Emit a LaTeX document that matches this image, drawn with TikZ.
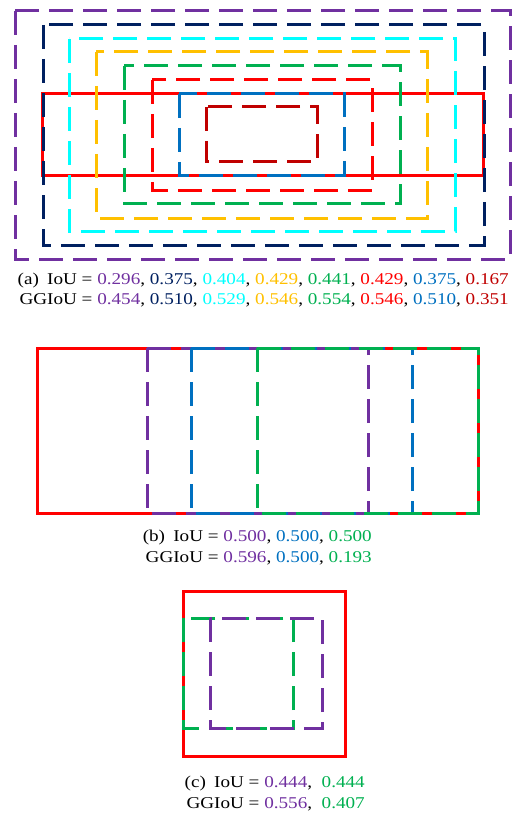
\documentclass[tikz,border=0pt]{standalone}
\usepackage{fontspec}
\setmainfont{Liberation Serif}[FakeStretch=1.16]
\usetikzlibrary{positioning}
\definecolor{iouPurple}{HTML}{7030A0}
\definecolor{iouNavy}{HTML}{002060}
\definecolor{iouCyan}{HTML}{00FFFF}
\definecolor{iouGold}{HTML}{FFC000}
\definecolor{iouGreen}{HTML}{00B050}
\definecolor{iouRed}{HTML}{FF0000}
\definecolor{iouBlue}{HTML}{0070C0}
\definecolor{iouDark}{HTML}{C00000}
\tikzset{
pred/.style={
  draw,
  line width=3pt,
  dash pattern=on 24pt off 10pt},
truth/.style={
  draw=iouRed,
  line width=3pt},
caption/.style={
  inner sep=0pt,
  anchor=base east,
  font=\fontsize{16.5}{19}\selectfont}
}
\begin{document}
\begin{tikzpicture}[x=1pt,y=-1pt]
    \useasboundingbox (0,0) rectangle (511,813);
    % (a)
    \draw[truth] (42,94) rectangle (483,176);
    \draw[pred, iouPurple] (15,11) rectangle (510,259);
    \draw[pred, iouNavy] (43,25) rectangle (484,245);
    \draw[pred, iouCyan] (69,39) rectangle (455,231);
    \draw[pred, iouGold] (96,52) rectangle (427,218);
    \draw[pred, iouGreen] (124,66) rectangle (400,203);
    \draw[pred, iouRed] (152,80) rectangle (372,190);
    \draw[pred, iouBlue] (179,94) rectangle (344,176);
    \draw[pred, iouDark] (206,107) rectangle (317,162);
    \node[caption] (capA1) at (509,284) {(a)\hspace{0.5em}IoU = \textcolor{iouPurple}{0.296}, \textcolor{iouNavy}{0.375}, \textcolor{iouCyan}{0.404}, \textcolor{iouGold}{0.429}, \textcolor{iouGreen}{0.441}, \textcolor{iouRed}{0.429}, \textcolor{iouBlue}{0.375}, \textcolor{iouDark}{0.167}};
    \node[caption] (capA2) at (509,304) {GGIoU = \textcolor{iouPurple}{0.454}, \textcolor{iouNavy}{0.510}, \textcolor{iouCyan}{0.529}, \textcolor{iouGold}{0.546}, \textcolor{iouGreen}{0.554}, \textcolor{iouRed}{0.546}, \textcolor{iouBlue}{0.510}, \textcolor{iouDark}{0.351}};
    % (b)
    \draw[truth] (37,348) rectangle (478,513);
    \draw[pred, iouPurple] (147,348) rectangle (368,513);
    \draw[pred, iouBlue] (191,348) rectangle (412,513);
    \draw[pred, iouGreen] (257,348) rectangle (478,513);
    \node[caption] (capB1) at (372,541) {(b)\hspace{0.5em}IoU = \textcolor{iouPurple}{0.500}, \textcolor{iouBlue}{0.500}, \textcolor{iouGreen}{0.500}};
    \node[caption] (capB2) at (372,562) {GGIoU = \textcolor{iouPurple}{0.596}, \textcolor{iouBlue}{0.500}, \textcolor{iouGreen}{0.193}};
    % (c)
    \draw[truth] (183,591) rectangle (345,756);
    \draw[pred, iouGreen] (183,618) rectangle (293,728);
    \draw[pred, iouPurple] (210,618) rectangle (322,728);
    \node[caption] (capC1) at (365,787) {(c)\hspace{0.5em}IoU = \textcolor{iouPurple}{0.444},\ \ \textcolor{iouGreen}{0.444}};
    \node[caption] (capC2) at (365,808) {GGIoU = \textcolor{iouPurple}{0.556},\ \ \textcolor{iouGreen}{0.407}};
\end{tikzpicture}
\end{document}
